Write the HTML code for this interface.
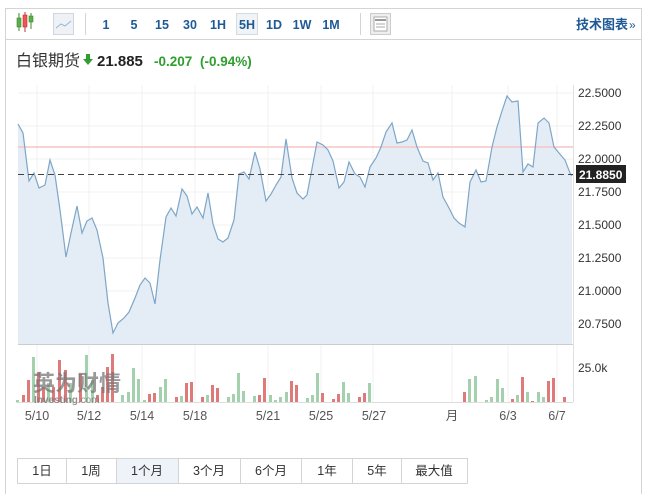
<!DOCTYPE html>
<html><head><meta charset="utf-8"><style>
body{margin:0;width:651px;height:494px;background:#fff;overflow:hidden}
svg{display:block}
text{font-family:"Liberation Sans","Noto Sans CJK SC",sans-serif}
</style></head><body>
<svg width="651" height="494" xmlns="http://www.w3.org/2000/svg">
<rect x="5.5" y="8.5" width="636" height="490" fill="#fff" stroke="#d4d4d4"/>
<line x1="6" y1="39.5" x2="641" y2="39.5" stroke="#d4d4d4"/>
<!-- candle icon -->
<g>
<line x1="19" y1="13" x2="19" y2="31" stroke="#3a8a2a"/><rect x="17" y="18" width="4" height="9" fill="#59b04a" stroke="#3a8a2a" stroke-width="0.6"/>
<line x1="25" y1="12" x2="25" y2="32" stroke="#b33"/><rect x="23" y="15" width="4" height="12" fill="#e55" stroke="#b33" stroke-width="0.6"/>
<line x1="31" y1="13" x2="31" y2="29" stroke="#3a8a2a"/><rect x="29" y="16" width="4" height="6" fill="#59b04a" stroke="#3a8a2a" stroke-width="0.6"/>
</g>
<rect x="53.5" y="13.5" width="20" height="21" fill="#eef2f6" stroke="#cfd6de"/>
<polyline points="56,28 61,24 65,26 71,21" fill="none" stroke="#9bb6cf" stroke-width="1"/>
<line x1="85.5" y1="13" x2="85.5" y2="35" stroke="#d4d4d4"/>
<rect x="236.5" y="13.5" width="21" height="21" fill="#f1f4f7" stroke="#d4dbe3"/>
<g font-size="12.5" font-weight="bold" fill="#1f5a96" text-anchor="middle">
<text x="106" y="29">1</text><text x="134" y="29">5</text><text x="162" y="29">15</text><text x="190" y="29">30</text><text x="218" y="29">1H</text><text x="247" y="29">5H</text><text x="274" y="29">1D</text><text x="302" y="29">1W</text><text x="331" y="29">1M</text>
</g>
<line x1="360.5" y1="13" x2="360.5" y2="35" stroke="#d4d4d4"/>
<rect x="370.5" y="13.5" width="20" height="21" fill="#eee" stroke="#ccc"/>
<rect x="374" y="17" width="13" height="14" fill="#fff" stroke="#999" stroke-width="0.8"/>
<line x1="375" y1="20" x2="386" y2="20" stroke="#999" stroke-width="2"/><line x1="376" y1="24" x2="385" y2="24" stroke="#aaa"/><line x1="376" y1="27" x2="385" y2="27" stroke="#aaa"/>
<text x="576" y="29" font-size="13" font-weight="bold" fill="#1f5a96">技术图表</text><text x="629" y="29" font-size="12" fill="#1f5a96">»</text>
<!-- title -->
<text x="16" y="66" font-size="16" fill="#333">白银期货</text>
<path d="M86,54 h4 v5 h3 l-5,6 l-5,-6 h3z" fill="#2e9e2e"/>
<text x="97" y="66" font-size="15" font-weight="bold" fill="#222">21.885</text>
<text x="154" y="66" font-size="13.5" font-weight="bold" fill="#2e9e2e">-0.207</text>
<text x="200" y="66" font-size="13.5" font-weight="bold" fill="#2e9e2e">(-0.94%)</text>
<!-- grid -->
<g stroke="#f0f0f0">
<line x1="18" y1="93" x2="573" y2="93"/><line x1="18" y1="126" x2="573" y2="126"/><line x1="18" y1="159" x2="573" y2="159"/><line x1="18" y1="192" x2="573" y2="192"/><line x1="18" y1="225" x2="573" y2="225"/><line x1="18" y1="258" x2="573" y2="258"/><line x1="18" y1="291" x2="573" y2="291"/><line x1="18" y1="324" x2="573" y2="324"/>
<line x1="37" y1="85" x2="37" y2="402"/><line x1="89" y1="85" x2="89" y2="402"/><line x1="142" y1="85" x2="142" y2="402"/><line x1="195" y1="85" x2="195" y2="402"/><line x1="268" y1="85" x2="268" y2="402"/><line x1="321" y1="85" x2="321" y2="402"/><line x1="373" y1="85" x2="373" y2="402"/><line x1="452" y1="85" x2="452" y2="402"/><line x1="508" y1="85" x2="508" y2="402"/><line x1="557" y1="85" x2="557" y2="402"/>
</g>
<polygon fill="#e4edf5" points="18,344 18,124 23,133 29,181 34,173 39,188 45,185 50,160 55,175 60,210 66,257 71,233 77,206 82,233 87,221 92,218 97,230 103,258 108,303 113,333 118,323 124,318 129,312 135,298 140,285 145,278 150,283 155,304 160,260 166,217 171,208 176,216 182,189 187,196 192,214 197,207 203,218 208,193 213,224 218,239 223,242 228,238 234,220 239,174 244,172 249,179 255,152 260,169 266,201 271,194 276,185 281,177 286,139 292,178 297,193 303,199 307,195 317,142 323,145 328,150 333,161 339,188 344,182 349,162 355,174 360,177 365,187 370,167 376,158 381,147 386,132 392,123 397,143 402,142 407,140 412,130 417,147 423,161 428,163 433,180 438,173 443,197 449,208 454,218 459,223 465,227 470,182 476,170 481,182 486,181 492,147 497,127 502,111 507,96 512,102 518,101 523,172 528,164 533,167 538,123 544,118 549,123 554,147 559,153 565,160 570,173 572,176 572,344"/>
<line x1="18" y1="147" x2="573" y2="147" stroke="#f7c4c4" stroke-width="1.5"/>
<polyline fill="none" stroke="#7ea6c8" stroke-width="1.2" points="18,124 23,133 29,181 34,173 39,188 45,185 50,160 55,175 60,210 66,257 71,233 77,206 82,233 87,221 92,218 97,230 103,258 108,303 113,333 118,323 124,318 129,312 135,298 140,285 145,278 150,283 155,304 160,260 166,217 171,208 176,216 182,189 187,196 192,214 197,207 203,218 208,193 213,224 218,239 223,242 228,238 234,220 239,174 244,172 249,179 255,152 260,169 266,201 271,194 276,185 281,177 286,139 292,178 297,193 303,199 307,195 317,142 323,145 328,150 333,161 339,188 344,182 349,162 355,174 360,177 365,187 370,167 376,158 381,147 386,132 392,123 397,143 402,142 407,140 412,130 417,147 423,161 428,163 433,180 438,173 443,197 449,208 454,218 459,223 465,227 470,182 476,170 481,182 486,181 492,147 497,127 502,111 507,96 512,102 518,101 523,172 528,164 533,167 538,123 544,118 549,123 554,147 559,153 565,160 570,173 572,176"/>
<line x1="18" y1="174.5" x2="573" y2="174.5" stroke="#444" stroke-dasharray="6,4"/>
<line x1="18" y1="344.5" x2="573" y2="344.5" stroke="#ccc"/>
<line x1="573.5" y1="85" x2="573.5" y2="402" stroke="#e0e0e0"/>
<g font-size="12" fill="#333">
<text x="578" y="97">22.5000</text><text x="578" y="130">22.2500</text><text x="578" y="163">22.0000</text><text x="578" y="196">21.7500</text><text x="578" y="229">21.5000</text><text x="578" y="262">21.2500</text><text x="578" y="295">21.0000</text><text x="578" y="328">20.7500</text>
<text x="578" y="372">25.0k</text>
</g>
<rect x="576" y="165" width="50" height="18" fill="#222"/>
<text x="579" y="179" font-size="12" font-weight="bold" fill="#fff">21.8850</text>
<!-- volume -->
<g fill="#df7a7a">
<rect x="22" y="395" width="3" height="7"/><rect x="27" y="380" width="3" height="22"/><rect x="37" y="372" width="3" height="30"/><rect x="42" y="387" width="3" height="15"/><rect x="52" y="387" width="3" height="15"/><rect x="58" y="360" width="3" height="42"/><rect x="64" y="370" width="3" height="32"/><rect x="79" y="374" width="3" height="28"/><rect x="96" y="395" width="3" height="7"/><rect x="101" y="387" width="3" height="15"/><rect x="106" y="367" width="3" height="35"/><rect x="111" y="354" width="3" height="48"/><rect x="148" y="394" width="3" height="8"/><rect x="153" y="393" width="3" height="9"/><rect x="175" y="397" width="3" height="5"/><rect x="185" y="383" width="3" height="19"/><rect x="190" y="382" width="3" height="20"/><rect x="201" y="397" width="3" height="5"/><rect x="211" y="385" width="3" height="17"/><rect x="216" y="388" width="3" height="14"/><rect x="258" y="395" width="3" height="7"/><rect x="263" y="378" width="3" height="24"/><rect x="290" y="381" width="3" height="21"/><rect x="295" y="385" width="3" height="17"/><rect x="321" y="393" width="3" height="9"/><rect x="332" y="399" width="3" height="3"/><rect x="337" y="394" width="3" height="8"/><rect x="358" y="397" width="3" height="5"/><rect x="363" y="393" width="3" height="9"/><rect x="463" y="392" width="3" height="10"/><rect x="511" y="399" width="3" height="3"/><rect x="521" y="377" width="3" height="25"/><rect x="531" y="401" width="3" height="1"/><rect x="547" y="381" width="3" height="21"/><rect x="552" y="378" width="3" height="24"/><rect x="563" y="397" width="3" height="5"/>
</g>
<g fill="#a3d1ad">
<rect x="16" y="400" width="3" height="2"/><rect x="32" y="357" width="3" height="45"/><rect x="47" y="383" width="3" height="19"/><rect x="69" y="383" width="3" height="19"/><rect x="85" y="355" width="3" height="47"/><rect x="91" y="380" width="3" height="22"/><rect x="121" y="395" width="3" height="7"/><rect x="127" y="392" width="3" height="10"/><rect x="132" y="368" width="3" height="34"/><rect x="137" y="379" width="3" height="23"/><rect x="143" y="400" width="3" height="2"/><rect x="159" y="387" width="3" height="15"/><rect x="164" y="379" width="3" height="23"/><rect x="180" y="396" width="3" height="6"/><rect x="206" y="395" width="3" height="7"/><rect x="227" y="397" width="3" height="5"/><rect x="232" y="394" width="3" height="8"/><rect x="237" y="373" width="3" height="29"/><rect x="242" y="391" width="3" height="11"/><rect x="253" y="396" width="3" height="6"/><rect x="269" y="395" width="3" height="7"/><rect x="274" y="400" width="3" height="2"/><rect x="279" y="397" width="3" height="5"/><rect x="285" y="392" width="3" height="10"/><rect x="306" y="398" width="3" height="4"/><rect x="311" y="395" width="3" height="7"/><rect x="316" y="373" width="3" height="29"/><rect x="342" y="382" width="3" height="20"/><rect x="347" y="393" width="3" height="9"/><rect x="368" y="383" width="3" height="19"/><rect x="468" y="379" width="3" height="23"/><rect x="474" y="376" width="3" height="26"/><rect x="485" y="400" width="3" height="2"/><rect x="490" y="397" width="3" height="5"/><rect x="496" y="379" width="3" height="23"/><rect x="501" y="388" width="3" height="14"/><rect x="516" y="395" width="3" height="7"/><rect x="526" y="392" width="3" height="10"/><rect x="537" y="392" width="3" height="10"/><rect x="542" y="397" width="3" height="5"/>
</g>
<line x1="16" y1="402.5" x2="573" y2="402.5" stroke="#ddd"/>
<text x="33" y="391" font-size="22" font-weight="bold" fill="#777" fill-opacity="0.75">英为财情</text>
<text x="34" y="403" font-size="10" font-weight="bold" fill="#777" fill-opacity="0.8">Investing<tspan font-weight="normal">.com</tspan></text>
<g font-size="12.5" fill="#555" text-anchor="middle">
<text x="37" y="420">5/10</text><text x="89" y="420">5/12</text><text x="142" y="420">5/14</text><text x="195" y="420">5/18</text><text x="268" y="420">5/21</text><text x="321" y="420">5/25</text><text x="374" y="420">5/27</text><text x="452" y="420">月</text><text x="508" y="420">6/3</text><text x="557" y="420">6/7</text>
</g>
<!-- buttons -->
<rect x="116" y="458" width="62" height="25" fill="#edf3f9"/>
<rect x="17.5" y="458.5" width="450" height="25" fill="none" stroke="#d4d4d4"/>
<g stroke="#d4d4d4"><line x1="66.5" y1="458" x2="66.5" y2="484"/><line x1="116.5" y1="458" x2="116.5" y2="484"/><line x1="178.5" y1="458" x2="178.5" y2="484"/><line x1="240.5" y1="458" x2="240.5" y2="484"/><line x1="301.5" y1="458" x2="301.5" y2="484"/><line x1="352.5" y1="458" x2="352.5" y2="484"/><line x1="401.5" y1="458" x2="401.5" y2="484"/></g>
<g font-size="12.5" fill="#333" text-anchor="middle">
<text x="42" y="475">1日</text><text x="91" y="475">1周</text><text x="147" y="475">1个月</text><text x="209" y="475">3个月</text><text x="271" y="475">6个月</text><text x="327" y="475">1年</text><text x="377" y="475">5年</text><text x="434" y="475">最大值</text>
</g>
</svg>
</body></html>
